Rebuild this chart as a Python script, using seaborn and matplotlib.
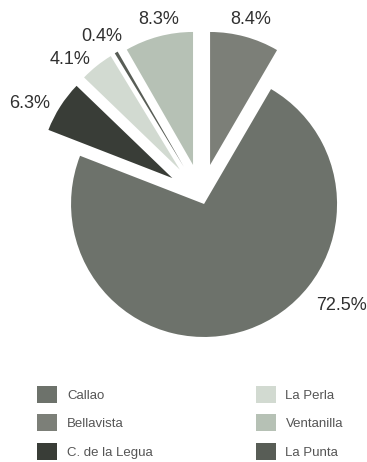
import matplotlib
matplotlib.use("Agg")
import matplotlib.pyplot as plt
from matplotlib.patches import Patch
import numpy as np
import seaborn as sns

# Districts (legend order), their shares in percent and fill colours
districts = ["Callao", "Bellavista", "C. de la Legua", "La Perla", "Ventanilla", "La Punta"]
shares = [72.5, 8.4, 6.3, 4.1, 8.3, 0.4]
fill_hex = ["#6d726b", "#7c7f78", "#393d37", "#d2dad1", "#b6c1b5", "#585d56"]

# Order in which the wedges run clockwise from twelve o'clock
wedge_order = ["Bellavista", "Callao", "C. de la Legua", "La Perla", "La Punta", "Ventanilla"]
explode_by = {"Callao": 0.058, "Bellavista": 0.247, "C. de la Legua": 0.26,
              "La Perla": 0.26, "La Punta": 0.26, "Ventanilla": 0.247}
# Where each percentage label sits (pie radius = 1)
label_pos = {"Bellavista": (0.372, 1.329), "Ventanilla": (-0.320, 1.329),
             "La Punta": (-0.748, 1.208), "La Perla": (-0.989, 1.035),
             "C. de la Legua": (-1.289, 0.704), "Callao": (1.056, -0.821)}

sns.set_theme(style="white")
plt.rcParams["font.family"] = ["Liberation Sans", "DejaVu Sans"]

palette = dict(zip(districts, sns.color_palette(fill_hex)))
share_of = dict(zip(districts, shares))

W, H, DPI = 367, 462, 100
fig = plt.figure(figsize=(W / DPI, H / DPI), dpi=DPI)
fig.patch.set_facecolor("white")

# Axes covers the upper 370 px; 133 px per data unit in both directions
scale = 133.0
cx_px, cy_px = 201.5, 196.7
ax_h_px = 370.0
ax = fig.add_axes([0, 1 - ax_h_px / H, 1, ax_h_px / H])

vals = [share_of[d] for d in wedge_order]
ax.pie(vals,
       colors=[palette[d] for d in wedge_order],
       explode=[explode_by[d] for d in wedge_order],
       startangle=90, counterclock=False, radius=1.0,
       wedgeprops=dict(linewidth=0))

for d in wedge_order:
    x, y = label_pos[d]
    ax.text(x, y, f"{share_of[d]:.1f}%", ha="center", va="center",
            fontsize=13, color="#303030")

ax.set_xlim(-cx_px / scale, (W - cx_px) / scale)
ax.set_ylim(-(ax_h_px - cy_px) / scale, cy_px / scale)
ax.set_aspect("auto")
ax.axis("off")

handles = [Patch(facecolor=palette[d], edgecolor="none", label=d) for d in districts]
fig.legend(handles=handles, loc="upper left", ncol=2,
           bbox_to_anchor=(37 / W, 1 - 386 / H), frameon=False,
           fontsize=9.5, labelcolor="#555555",
           handlelength=1.515, handleheight=1.6, handletextpad=0.75,
           labelspacing=0.87, columnspacing=7.8, borderpad=0, borderaxespad=0)

fig.savefig("out.png", dpi=DPI, facecolor="white")
